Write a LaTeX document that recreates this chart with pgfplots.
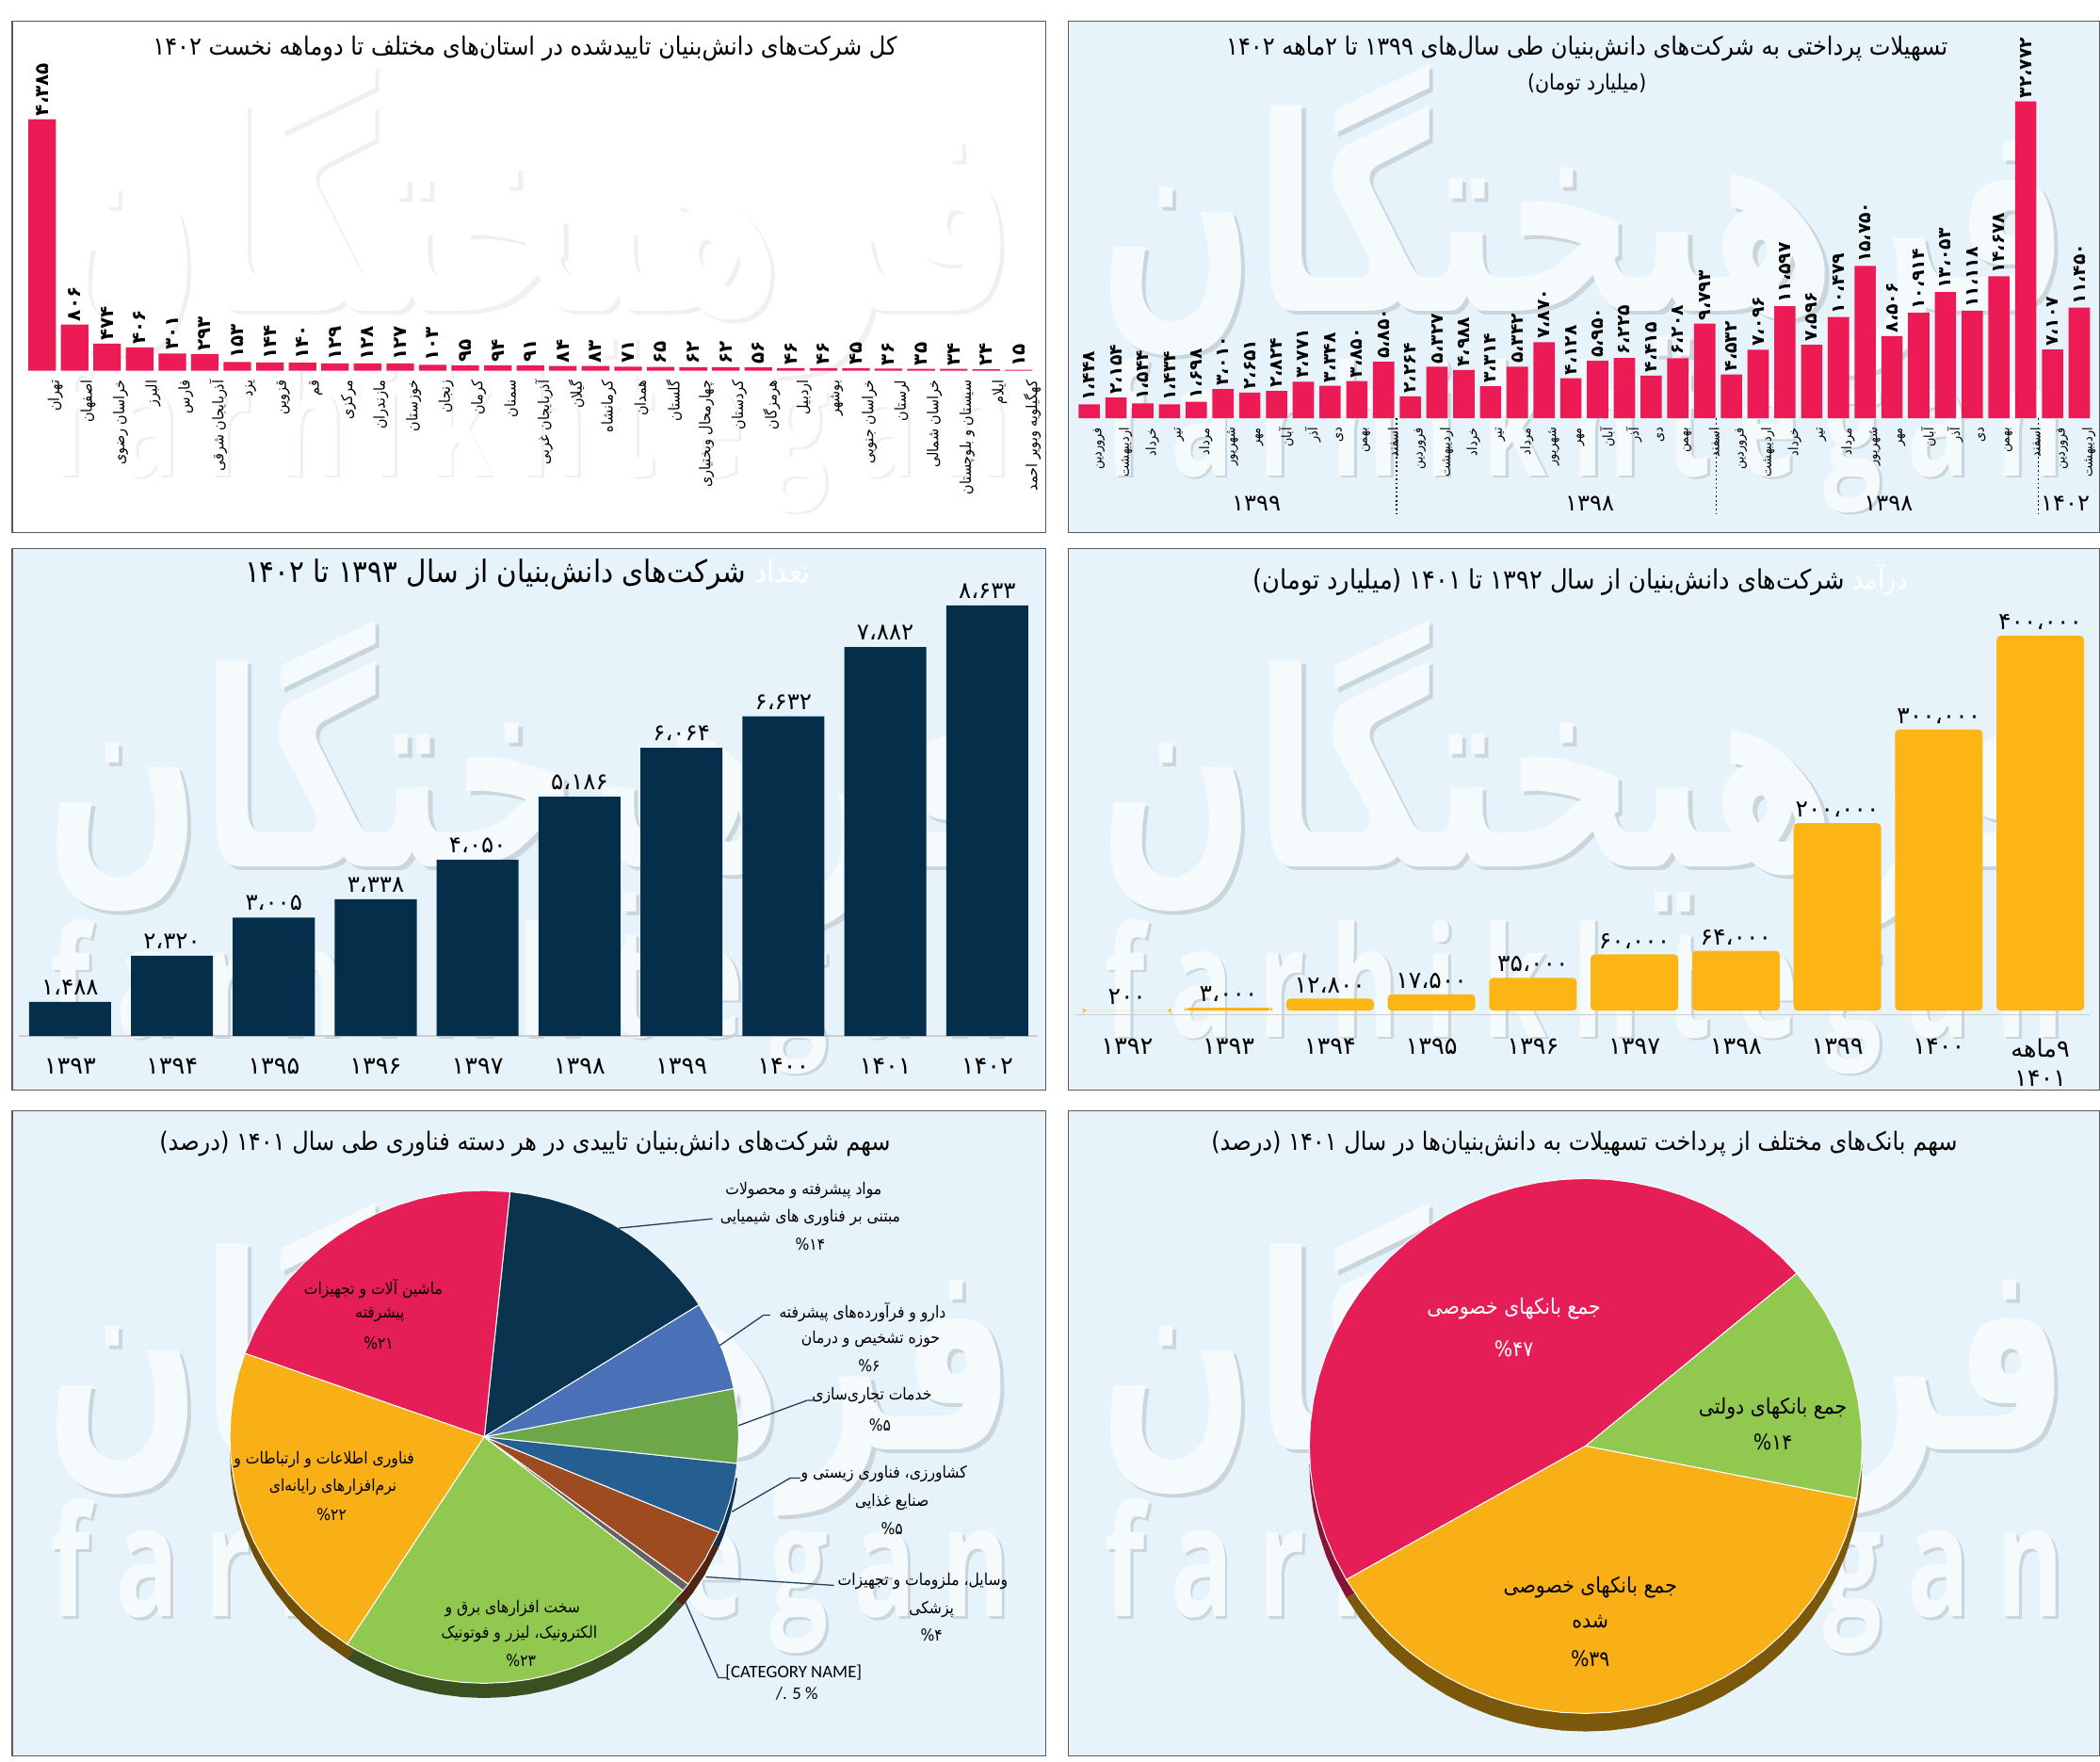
\documentclass[border=0pt]{standalone}
\usepackage{graphicx}
\usepackage{fontspec}
\usepackage{pgfplots}
\pgfplotsset{compat=1.18}
\usepgfplotslibrary{polar}
\TeXXeTstate=1
\newfontfamily\fa[Script=Arabic]{DejaVu Sans}
\newfontfamily\fac[Script=Arabic]{DejaVu Sans Condensed}
\newfontfamily\fab[Script=Arabic]{DejaVu Sans Bold}
\newfontfamily\lat{Carlito}
\newfontfamily\wm[LetterSpace=25]{Open Sans Bold}
\newcommand\RR[1]{\beginR #1\endR}
\newcommand\LL[1]{\beginL #1\endL}
\definecolor{panel}{HTML}{E6F3FA}
\definecolor{barred}{HTML}{EC1B55}
\definecolor{barnavy}{HTML}{052E4A}
\definecolor{bargold}{HTML}{FDB515}
\definecolor{piered}{HTML}{E61E57}
\definecolor{piegold}{HTML}{F8B016}
\definecolor{piegreen}{HTML}{90C850}
\definecolor{pienavy}{HTML}{0A3350}
\definecolor{pieblue}{HTML}{4A70B8}
\definecolor{piegreenb}{HTML}{6CA84A}
\definecolor{piebluec}{HTML}{255E91}
\definecolor{piebrown}{HTML}{9E4B22}
\definecolor{piegray}{HTML}{636363}
\definecolor{leader}{HTML}{1F3F58}
\pgfplotsset{
  barbase/.style={scale only axis, clip=false, enlargelimits=false, ybar,
    axis y line=none, axis x line=bottom, axis line style={-,draw=#1},
    major tick length=0pt, ytick=\empty, point meta=explicit symbolic, nodes near coords},
  pieaxis/.style={scale only axis, clip=false, hide axis, xmin=-1,xmax=1,ymin=-1,ymax=1},
  wedge/.style={fill=#1, draw=white, line width=0.35pt, data cs=polar},
  rim/.style={fill=#1, draw=none, data cs=polar},
}
\newcommand\panelbox[5]{%
  \fill[#5] (#1,#2) rectangle (#3,#4);}
\newcommand\watermark[6]{% x-centre, arabic y-centre, latin y-centre, main, shadow, arabic height
  \node[#5] at (#1+3,#2+3) {\resizebox{362pt}{#6}{\fab\RR{فرهیختگان}}};
  \node[#4] at (#1,#2) {\resizebox{362pt}{#6}{\fab\RR{فرهیختگان}}};
  \node[#5] at (#1+2,#3+2) {\resizebox{358pt}{44pt}{\wm farhikhtegan}};
  \node[#4] at (#1,#3) {\resizebox{358pt}{44pt}{\wm farhikhtegan}};}
\begin{document}
\begin{tikzpicture}
\useasboundingbox (0,0) rectangle (784pt,657.5pt);
\fill[white] (0,0) rectangle (784pt,657.5pt);
\begin{scope}[x=0.5pt,y=-0.5pt,yshift=657.5pt]
  % panels
  \panelbox{9}{16}{781}{397.5}{white}
  \panelbox{797.5}{16}{1568}{397.5}{panel}
  \panelbox{9}{409.5}{781}{814}{panel}
  \panelbox{797.5}{409.5}{1568}{814}{panel}
  \panelbox{9}{829.5}{781}{1311}{panel}
  \panelbox{797.5}{829.5}{1568}{1311}{panel}
  % watermarks
  \begin{scope}
    \clip (9,16) rectangle (781,397.5);
    \watermark{396}{165}{325}{white}{black!6}{92pt}
  \end{scope}
  \begin{scope}
    \clip (797.5,16) rectangle (1568,397.5);
    \watermark{1183}{165}{325}{panel!40!white}{panel!88!black}{92pt}
  \end{scope}
  \begin{scope}
    \clip (9,409.5) rectangle (781,814);
    \watermark{396}{580}{744}{panel!40!white}{panel!88!black}{92pt}
  \end{scope}
  \begin{scope}
    \clip (797.5,409.5) rectangle (1568,814);
    \watermark{1183}{580}{744}{panel!40!white}{panel!88!black}{92pt}
  \end{scope}
  \begin{scope}
    \clip (9,829.5) rectangle (781,1311);
    \watermark{396}{1015}{1177}{panel!40!white}{panel!88!black}{92pt}
  \end{scope}
  \begin{scope}
    \clip (797.5,829.5) rectangle (1568,1311);
    \watermark{1183}{1015}{1177}{panel!40!white}{panel!88!black}{92pt}
  \end{scope}
\end{scope}

% ---------- Panel A: provinces
\begin{axis}[barbase=white, at={(9.62pt,519.1pt)}, anchor=south west,
  width=376.8pt, height=93.9pt, xmin=-0.5, xmax=30.5, ymin=0, ymax=4385,
  bar width=10.3pt, xtick={0,...,30},
  x tick label style={rotate=90, anchor=east, yshift=-5pt, font=\fac\fontsize{5.6}{7}\selectfont},
  every node near coord/.append style={rotate=90, anchor=west, xshift=0pt, font=\fa\bfseries\fontsize{7}{8}\selectfont, inner sep=1pt, yshift=0pt},
  nodes near coords style={black},
  xticklabels={\RR{تهران},\RR{اصفهان},\RR{خراسان رضوی},\RR{البرز},\RR{فارس},\RR{آذربایجان شرقی},\RR{یزد},\RR{قزوین},\RR{قم},\RR{مرکزی},\RR{مازندران},\RR{خوزستان},\RR{زنجان},\RR{کرمان},\RR{سمنان},\RR{آذربایجان غربی},\RR{گیلان},\RR{کرمانشاه},\RR{همدان},\RR{گلستان},\RR{چهارمحال وبختیاری},\RR{کردستان},\RR{هرمزگان},\RR{اردبیل},\RR{بوشهر},\RR{خراسان جنوبی},\RR{لرستان},\RR{خراسان شمالی},\RR{سیستان و بلوچستان},\RR{ایلام},\RR{کهگیلویه وبویر احمد}}]
\addplot[fill=barred, draw=none] coordinates {(0,4385)[۴،۳۸۵] (1,806)[۸۰۶] (2,474)[۴۷۴] (3,406)[۴۰۶] (4,301)[۳۰۱] (5,293)[۲۹۳] (6,153)[۱۵۳] (7,144)[۱۴۴] (8,140)[۱۴۰] (9,129)[۱۲۹] (10,128)[۱۲۸] (11,127)[۱۲۷] (12,103)[۱۰۳] (13,95)[۹۵] (14,94)[۹۴] (15,91)[۹۱] (16,84)[۸۴] (17,83)[۸۳] (18,71)[۷۱] (19,65)[۶۵] (20,62)[۶۲] (21,62)[۶۲] (22,56)[۵۶] (23,46)[۴۶] (24,46)[۴۶] (25,45)[۴۵] (26,36)[۳۶] (27,35)[۳۵] (28,34)[۳۴] (29,24)[۲۴] (30,15)[۱۵]};
\end{axis}

% ---------- Panel B: monthly facilities
\begin{axis}[barbase=panel, at={(401.65pt,501.35pt)}, anchor=south west,
  width=379.6pt, height=118.3pt, xmin=-0.5, xmax=37.5, ymin=0, ymax=32772,
  bar width=7.95pt, xtick={0,...,37},
  x tick label style={rotate=90, anchor=east, yshift=-3.6pt, font=\fac\fontsize{5}{6}\selectfont},
  every node near coord/.append style={rotate=90, anchor=west, font=\fa\bfseries\fontsize{6.6}{8}\selectfont, inner sep=1pt},
  xticklabels={\RR{فروردین},\RR{اردیبهشت},\RR{خرداد},\RR{تیر},\RR{مرداد},\RR{شهریور},\RR{مهر},\RR{آبان},\RR{آذر},\RR{دی},\RR{بهمن},\RR{اسفند},\RR{فروردین},\RR{اردیبهشت},\RR{خرداد},\RR{تیر},\RR{مرداد},\RR{شهریور},\RR{مهر},\RR{آبان},\RR{آذر},\RR{دی},\RR{بهمن},\RR{اسفند},\RR{فروردین},\RR{اردیبهشت},\RR{خرداد},\RR{تیر},\RR{مرداد},\RR{شهریور},\RR{مهر},\RR{آبان},\RR{آذر},\RR{دی},\RR{بهمن},\RR{اسفند},\RR{فروردین},\RR{اردیبهشت}}]
\addplot[fill=barred, draw=none] coordinates {(0,1448)[۱،۴۴۸] (1,2154)[۲،۱۵۴] (2,1544)[۱،۵۴۴] (3,1434)[۱،۴۳۴] (4,1698)[۱،۶۹۸] (5,3010)[۳،۰۱۰] (6,2651)[۲،۶۵۱] (7,2824)[۲،۸۲۴] (8,3771)[۳،۷۷۱] (9,3348)[۳،۳۴۸] (10,3850)[۳،۸۵۰] (11,5850)[۵،۸۵۰] (12,2264)[۲،۲۶۴] (13,5327)[۵،۳۲۷] (14,4988)[۴،۹۸۸] (15,3314)[۳،۳۱۴] (16,5342)[۵،۳۴۲] (17,7870)[۷،۸۷۰] (18,4128)[۴،۱۲۸] (19,5950)[۵،۹۵۰] (20,6225)[۶،۲۲۵] (21,4415)[۴،۴۱۵] (22,6208)[۶،۲۰۸] (23,9793)[۹،۷۹۳] (24,4532)[۴،۵۳۲] (25,7096)[۷،۰۹۶] (26,11597)[۱۱،۵۹۷] (27,7596)[۷،۵۹۶] (28,10479)[۱۰،۴۷۹] (29,15750)[۱۵،۷۵۰] (30,8506)[۸،۵۰۶] (31,10914)[۱۰،۹۱۴] (32,13053)[۱۳،۰۵۳] (33,11118)[۱۱،۱۱۸] (34,14678)[۱۴،۶۷۸] (35,32772)[۳۲،۷۷۲] (36,7107)[۷،۱۰۷] (37,11450)[۱۱،۴۵۰]};
\end{axis}

% ---------- Panel C: number of firms
\begin{axis}[barbase=black!20, at={(7.1pt,270.75pt)}, anchor=south west,
  width=380.5pt, height=160.75pt, xmin=-0.5, xmax=9.5, ymin=873, ymax=8633,
  bar width=30.6pt, xtick={0,...,9},
  x tick label style={anchor=center, yshift=-11.45pt, font=\fa\fontsize{9}{11}\selectfont},
  every node near coord/.append style={font=\fa\fontsize{8.6}{10}\selectfont, inner sep=2.5pt},
  xticklabels={۱۳۹۳,۱۳۹۴,۱۳۹۵,۱۳۹۶,۱۳۹۷,۱۳۹۸,۱۳۹۹,۱۴۰۰,۱۴۰۱,۱۴۰۲}]
\addplot[fill=barnavy, draw=none] coordinates {(0,1488)[۱،۴۸۸] (1,2320)[۲،۳۲۰] (2,3005)[۳،۰۰۵] (3,3338)[۳،۳۳۸] (4,4050)[۴،۰۵۰] (5,5186)[۵،۱۸۶] (6,6064)[۶،۰۶۴] (7,6632)[۶،۶۳۲] (8,7882)[۷،۸۸۲] (9,8633)[۸،۶۳۳]};
\end{axis}

% ---------- Panel D: revenue
\begin{axis}[barbase=black!20, at={(401.8pt,278.8pt)}, anchor=south west,
  width=378.85pt, height=141.3pt, xmin=-0.5, xmax=9.5, ymin=-4000, ymax=400000,
  bar width=32.7pt, xtick={0,...,9},
  x tick label style={anchor=north, yshift=-5.5pt, align=center, font=\fa\fontsize{9}{11}\selectfont},
  every node near coord/.append style={font=\fa\fontsize{8.8}{10}\selectfont, inner sep=2pt},
  xticklabels={۱۳۹۲,۱۳۹۳,۱۳۹۴,۱۳۹۵,۱۳۹۶,۱۳۹۷,۱۳۹۸,۱۳۹۹,۱۴۰۰,{\RR{\LL{۹}ماهه}\\۱۴۰۱}}]
\addplot[fill=bargold, draw=none, rounded corners=1.5pt] coordinates {(0,200)[۲۰۰] (1,3000)[۳،۰۰۰] (2,12800)[۱۲،۸۰۰] (3,17500)[۱۷،۵۰۰] (4,35000)[۳۵،۰۰۰] (5,60000)[۶۰،۰۰۰] (6,64000)[۶۴،۰۰۰] (7,200000)[۲۰۰،۰۰۰] (8,300000)[۳۰۰،۰۰۰] (9,400000)[۴۰۰،۰۰۰]};
\end{axis}

% ---------- Panel E: bank pie
\begin{axis}[pieaxis, at={(488.8pt,17.85pt)}, anchor=south west, width=206.4pt, height=199.7pt]
\addplot[rim={piered!60!black}, yshift=-6.75pt] coordinates {(0,0)(180,1)(185,1)(190,1)(195,1)(200,1)(205,1)(210,1)(0,0)};
\addplot[rim={piegold!50!black}, yshift=-6.75pt] coordinates {(0,0)(210,1)(215,1)(220,1)(225,1)(230,1)(235,1)(240,1)(245,1)(250,1)(255,1)(260,1)(265,1)(270,1)(275,1)(280,1)(285,1)(290,1)(295,1)(300,1)(305,1)(310,1)(315,1)(320,1)(325,1)(330,1)(335,1)(340,1)(345,1)(348.7,1)(0,0)};
\addplot[rim={piegold!50!black}, yshift=-6.75pt] coordinates {(0,0)(348.7,1)(355,1)(360,1)(0,0)};
\addplot[wedge=piered] coordinates {(0,0)(40.2,1)(45,1)(50,1)(55,1)(60,1)(65,1)(70,1)(75,1)(80,1)(85,1)(90,1)(95,1)(100,1)(105,1)(110,1)(115,1)(120,1)(125,1)(130,1)(135,1)(140,1)(145,1)(150,1)(155,1)(160,1)(165,1)(170,1)(175,1)(180,1)(185,1)(190,1)(195,1)(200,1)(205,1)(210,1)(0,0)};
\addplot[wedge=piegold] coordinates {(0,0)(210,1)(215,1)(220,1)(225,1)(230,1)(235,1)(240,1)(245,1)(250,1)(255,1)(260,1)(265,1)(270,1)(275,1)(280,1)(285,1)(290,1)(295,1)(300,1)(305,1)(310,1)(315,1)(320,1)(325,1)(330,1)(335,1)(340,1)(345,1)(348.7,1)(0,0)};
\addplot[wedge=piegreen] coordinates {(0,0)(348.7,1)(355,1)(360,1)(365,1)(370,1)(375,1)(380,1)(385,1)(390,1)(395,1)(400.2,1)(0,0)};
\end{axis}

% ---------- Panel F: technology pie
\begin{axis}[pieaxis, at={(85.8pt,29.1pt)}, anchor=south west, width=190pt, height=184pt]
\addplot[rim={piegold!45!black}, yshift=-5.5pt] coordinates {(0,0)(180,1)(185,1)(190,1)(195,1)(200,1)(205,1)(210,1)(215,1)(220,1)(225,1)(230,1)(237.4,1)(0,0)};
\addplot[rim={piegreen!40!black}, yshift=-5.5pt] coordinates {(0,0)(237.4,1)(240,1)(245,1)(250,1)(255,1)(260,1)(265,1)(270,1)(275,1)(280,1)(285,1)(290,1)(295,1)(300,1)(305,1)(310,1)(315,1)(321.4,1)(0,0)};
\addplot[rim={piebrown!50!black}, yshift=-5.5pt] coordinates {(0,0)(321.4,1)(325,1)(330,1)(337.2,1)(0,0)};
\addplot[rim={piebluec!50!black}, yshift=-5.5pt] coordinates {(0,0)(337.2,1)(340,1)(345,1)(350,1)(353.8,1)(0,0)};
\addplot[wedge=pienavy] coordinates {(0,0)(32.4,1)(35,1)(40,1)(45,1)(50,1)(55,1)(60,1)(65,1)(70,1)(75,1)(80,1)(84.2,1)(0,0)};
\addplot[wedge=piered] coordinates {(0,0)(84.2,1)(90,1)(95,1)(100,1)(105,1)(110,1)(115,1)(120,1)(125,1)(130,1)(135,1)(140,1)(145,1)(150,1)(155,1)(160.2,1)(0,0)};
\addplot[wedge=piegold] coordinates {(0,0)(160.2,1)(165,1)(170,1)(175,1)(180,1)(185,1)(190,1)(195,1)(200,1)(205,1)(210,1)(215,1)(220,1)(225,1)(230,1)(237.4,1)(0,0)};
\addplot[wedge=piegreen] coordinates {(0,0)(237.4,1)(240,1)(245,1)(250,1)(255,1)(260,1)(265,1)(270,1)(275,1)(280,1)(285,1)(290,1)(295,1)(300,1)(305,1)(310,1)(315,1)(321.4,1)(0,0)};
\addplot[wedge=piegray] coordinates {(0,0)(321.4,1)(323.3,1)(0,0)};
\addplot[wedge=piebrown] coordinates {(0,0)(323.3,1)(330,1)(337.2,1)(0,0)};
\addplot[wedge=piebluec] coordinates {(0,0)(337.2,1)(340,1)(345,1)(350,1)(353.8,1)(0,0)};
\addplot[wedge=piegreenb] coordinates {(0,0)(353.8,1)(360,1)(365,1)(371.3,1)(0,0)};
\addplot[wedge=pieblue] coordinates {(0,0)(11.3,1)(15,1)(20,1)(25,1)(32.4,1)(0,0)};
\end{axis}

\begin{scope}[x=0.5pt,y=-0.5pt,yshift=657.5pt]
  % frames
  \foreach \a/\b/\c/\d in {9/16/781/397.5, 797.5/16/1568/397.5, 9/409.5/781/814, 797.5/409.5/1568/814, 9/829.5/781/1311, 797.5/829.5/1568/1311}
    \draw[black!65, line width=0.5pt] (\a,\b) rectangle (\c,\d);
  % titles
  \newcommand\ttl{\fac\fontsize{9.4}{11}\selectfont}
  \node[font=\ttl] at (392,36) {\RR{کل شرکت‌های دانش‌بنیان تاییدشده در استان‌های مختلف تا دوماهه نخست \LL{۱۴۰۲}}};
  \node[font=\ttl] at (1185,36) {\RR{تسهیلات پرداختی به شرکت‌های دانش‌بنیان طی سال‌های \LL{۱۳۹۹} تا \LL{۲}ماهه \LL{۱۴۰۲}}};
  \node[font=\fac\fontsize{8}{10}\selectfont] at (1185,63) {\RR{(میلیارد تومان)}};
  \node[font=\fac\fontsize{11.5}{13}\selectfont] at (394,429) {\RR{\textcolor{red}{تعداد} شرکت‌های دانش‌بنیان از سال \LL{۱۳۹۳} تا \LL{۱۴۰۲}}};
  \node[font=\fac\fontsize{10}{12}\selectfont] at (1180,433) {\RR{\textcolor{red}{درآمد} شرکت‌های دانش‌بنیان از سال \LL{۱۳۹۲} تا \LL{۱۴۰۱} (میلیارد تومان)}};
  \node[font=\ttl] at (392,854) {\RR{سهم شرکت‌های دانش‌بنیان تاییدی در هر دسته فناوری طی سال \LL{۱۴۰۱} (درصد)}};
  \node[font=\ttl] at (1183,854) {\RR{سهم بانک‌های مختلف از پرداخت تسهیلات به دانش‌بنیان‌ها در سال \LL{۱۴۰۱} (درصد)}};
  % panel B group labels and separators
  \foreach \xx/\ll in {938/۱۳۹۹,1187/۱۳۹۸,1410/۱۳۹۸,1542/۱۴۰۲}
    \node[font=\fa\fontsize{8.5}{10}\selectfont] at (\xx,376) {\ll};
  \foreach \xx in {1042.7,1281.5,1521.9}
    \draw[black, line width=0.6pt, densely dotted] (\xx,312.5) -- (\xx,383.5);
  % pie E labels
  \newcommand\pe{\fac\fontsize{8}{10}\selectfont}
  \node[font=\pe,white] at (1130.4,977) {\RR{جمع بانکهای خصوصی}};
  \node[font=\pe,white] at (1130.4,1007) {\%۴۷};
  \node[font=\pe] at (1323.7,1051.8) {\RR{جمع بانکهای دولتی}};
  \node[font=\pe] at (1323.7,1077) {\%۱۴};
  \node[font=\pe] at (1187.4,1185) {\RR{جمع بانکهای خصوصی}};
  \node[font=\pe] at (1187.4,1211) {\RR{شده}};
  \node[font=\pe] at (1187.4,1238.6) {\%۳۹};
  % pie F labels
  \newcommand\pf{\fac\fontsize{6.1}{8}\selectfont}
  \node[font=\pf] at (600,888.6) {\RR{مواد پیشرفته و محصولات}};
  \node[font=\pf] at (605,909) {\RR{مبتنی بر فناوری های شیمیایی}};
  \node[font=\pf] at (605,928.8) {\%۱۴};
  \node[font=\pf] at (278.7,962.4) {\RR{ماشین آلات و تجهیزات}};
  \node[font=\pf] at (283.7,982) {\RR{پیشرفته}};
  \node[font=\pf] at (282.7,1002.6) {\%۲۱};
  \node[font=\pf] at (644,979.7) {\RR{دارو و فرآورده‌های پیشرفته}};
  \node[font=\pf] at (650,1000) {\RR{حوزه تشخیص و درمان}};
  \node[font=\pf] at (649,1020) {\%۶};
  \node[font=\pf] at (651,1042.4) {\RR{خدمات تجاری‌سازی}};
  \node[font=\pf] at (657,1063.8) {\%۵};
  \node[font=\pf] at (660,1100.5) {\RR{کشاورزی، فناوری زیستی و}};
  \node[font=\pf] at (666,1121.5) {\RR{صنایع غذایی}};
  \node[font=\pf] at (666,1141.3) {\%۵};
  \node[font=\pf] at (689,1180.5) {\RR{وسایل، ملزومات و تجهیزات}};
  \node[font=\pf] at (695.5,1201.9) {\RR{پزشکی}};
  \node[font=\pf] at (695.5,1220.7) {\%۴};
  \node[font=\lat\fontsize{6.6}{8}\selectfont] at (592.6,1249) {[CATEGORY NAME]};
  \node[font=\lat\fontsize{6.6}{8}\selectfont] at (595,1264.7) {/. 5 \%};
  \node[font=\pf] at (242,1090) {\RR{فناوری اطلاعات و ارتباطات و}};
  \node[font=\pf] at (248.6,1110.5) {\RR{نرم‌افزارهای رایانه‌ای}};
  \node[font=\pf] at (247.6,1131) {\%۲۲};
  \node[font=\pf] at (382.7,1201) {\RR{سخت افزارهای برق و}};
  \node[font=\pf] at (387.7,1219.8) {\RR{الکترونیک، لیزر و فوتونیک}};
  \node[font=\pf] at (389,1240) {\%۲۳};
  % leaders
  \begin{scope}[leader, line width=0.45pt]
    \draw (462,917) -- (532,910);
    \draw (537,1004.8) -- (570,982) -- (575,982);
    \draw (551.4,1064.4) -- (602.6,1045.6) -- (607.6,1045.6);
    \draw (546.4,1128.8) -- (590,1103.6) -- (597.6,1103.6);
    \draw (527,1177.4) -- (622.7,1183.7);
    \draw (511,1194.7) -- (536.4,1252.7) -- (543.4,1252.7);
  \end{scope}
\end{scope}
\end{tikzpicture}
\end{document}
